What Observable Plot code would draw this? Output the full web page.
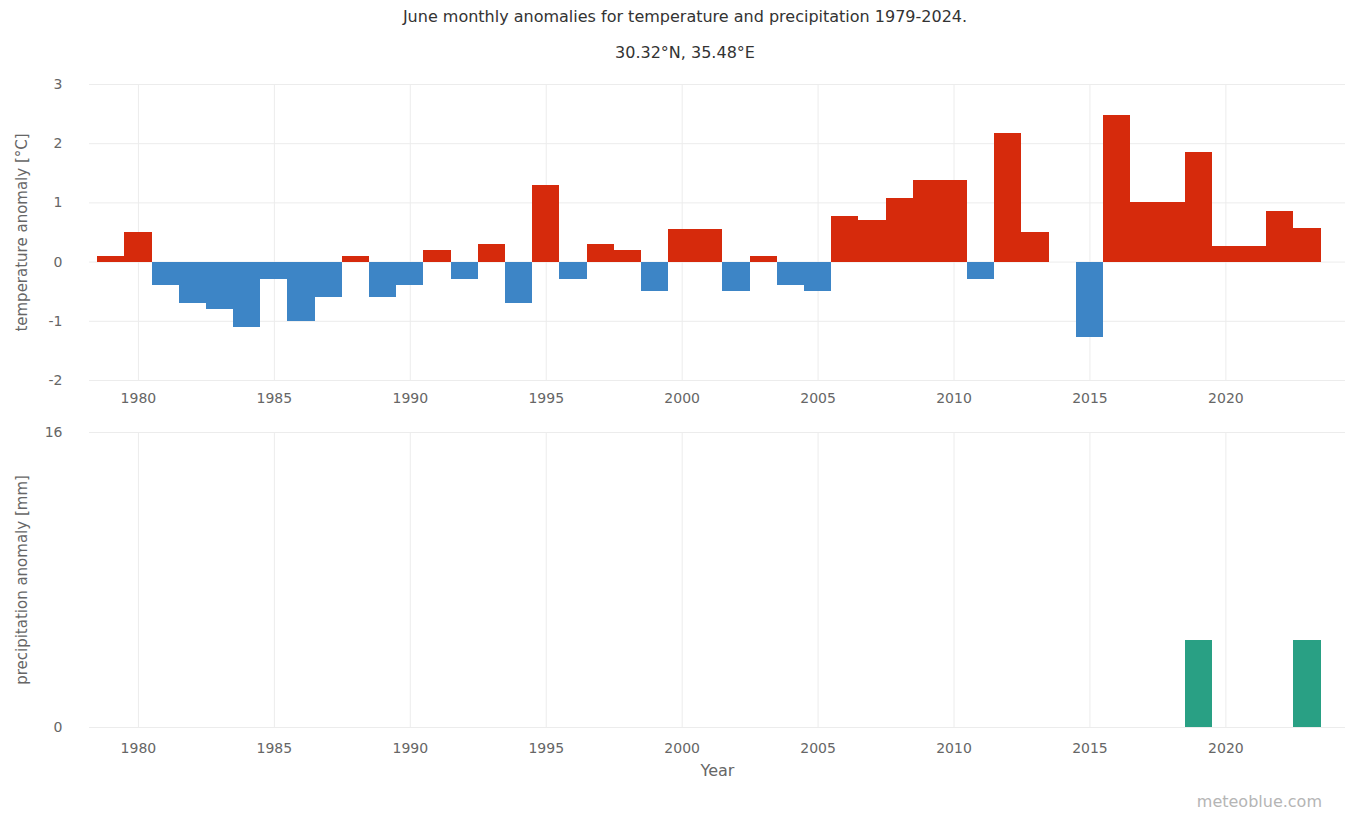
<!DOCTYPE html>
<html>
<head>
<meta charset="utf-8">
<script src="https://cdn.jsdelivr.net/npm/d3@7"></script>
<script src="https://cdn.jsdelivr.net/npm/@observablehq/plot@0.6"></script>
<style>
  html, body { margin: 0; padding: 0; background: #fff; }
  body { width: 1370px; height: 815px; position: relative; overflow: hidden;
         font-family: "DejaVu Sans", sans-serif; }
  .title { position: absolute; left: 0; width: 1370px; text-align: center; color: #333;
           font-size: 16px; line-height: 20px; }
  #t1 { top: 7px; }
  #t2 { top: 43px; }
  #tempChart { position: absolute; left: 0; top: 64px; }
  #precipChart { position: absolute; left: 0; top: 412px; }
  .credit { position: absolute; right: 48px; top: 792px; font-size: 16px; line-height: 20px; color: #b5b5b5; }
</style>
</head>
<body>
<div class="title" id="t1">June monthly anomalies for temperature and precipitation 1979-2024.</div>
<div class="title" id="t2">30.32°N, 35.48°E</div>
<div id="tempChart"></div>
<div id="precipChart"></div>
<div class="credit">meteoblue.com</div>
<script>
// June anomalies per year, 1979–2023 (2014 has no temperature value)
const years = [1979, 1980, 1981, 1982, 1983, 1984, 1985, 1986, 1987, 1988,
  1989, 1990, 1991, 1992, 1993, 1994, 1995, 1996, 1997, 1998,
  1999, 2000, 2001, 2002, 2003, 2004, 2005, 2006, 2007, 2008,
  2009, 2010, 2011, 2012, 2013, 2014, 2015, 2016, 2017, 2018,
  2019, 2020, 2021, 2022, 2023];
const tempAnomaly = [0.1, 0.5, -0.4, -0.7, -0.8, -1.1, -0.3, -1.0, -0.6, 0.1,
  -0.6, -0.4, 0.2, -0.3, 0.3, -0.7, 1.3, -0.3, 0.3, 0.2,
  -0.5, 0.55, 0.55, -0.5, 0.1, -0.4, -0.5, 0.77, 0.7, 1.07,
  1.37, 1.37, -0.3, 2.17, 0.5, null, -1.28, 2.47, 1.0, 1.0,
  1.85, 0.26, 0.26, 0.86, 0.57];
const precipAnomaly = [0, 0, 0, 0, 0, 0, 0, 0, 0, 0,
  0, 0, 0, 0, 0, 0, 0, 0, 0, 0,
  0, 0, 0, 0, 0, 0, 0, 0, 0, 0,
  0, 0, 0, 0, 0, 0, 0, 0, 0, 0,
  4.7, 0, 0, 0, 4.7];
const xTicks = [1980, 1985, 1990, 1995, 2000, 2005, 2010, 2015, 2020];
const tempTicks = [-2, -1, 0, 1, 2, 3];
const precipTicks = [0, 16];

const tempRows = years.map((year, i) => ({year, value: tempAnomaly[i]})).filter(d => d.value != null);
const precipRows = years.map((year, i) => ({year, value: precipAnomaly[i]})).filter(d => d.value > 0);

const WARM = "#d62a0c", COLD = "#3d85c6", WET = "#29a084";
const GRID = "#ececec", TEXT = "#666";
const plain = d => String(d);
const xDomain = [1978.2, 2024.4];
const common = {
  width: 1370,
  marginLeft: 89,
  marginRight: 25,
  style: {fontFamily: '"DejaVu Sans", sans-serif', fontSize: "14px", color: TEXT, background: "#fff"}
};

const tempPlot = Plot.plot({
  ...common,
  height: 348,
  marginTop: 20,
  marginBottom: 32,
  x: {domain: xDomain, ticks: xTicks, tickFormat: plain, label: null},
  y: {domain: [-2, 3], ticks: tempTicks, tickFormat: plain, label: null},
  marks: [
    Plot.gridX(xTicks, {stroke: GRID, strokeOpacity: 1}),
    Plot.gridY(tempTicks, {stroke: GRID, strokeOpacity: 1}),
    Plot.rectY(tempRows, {
      x1: d => d.year - 0.5, x2: d => d.year + 0.5, y: "value",
      fill: d => d.value >= 0 ? WARM : COLD, shapeRendering: "crispEdges"
    }),
    Plot.axisX(xTicks, {tickSize: 0, tickPadding: 13, tickFormat: plain, label: null}),
    Plot.axisY(tempTicks, {tickSize: 0, tickPadding: 27, tickFormat: plain, label: null}),
    Plot.text(["temperature anomaly [°C]"], {
      frameAnchor: "left", dx: -67, rotate: -90, textAnchor: "middle", fill: TEXT, fontSize: 15
    })
  ]
});
document.getElementById("tempChart").append(tempPlot);

const precipPlot = Plot.plot({
  ...common,
  height: 378,
  marginTop: 20,
  marginBottom: 63,
  x: {domain: xDomain, ticks: xTicks, tickFormat: plain, label: null},
  y: {domain: [0, 16], ticks: precipTicks, tickFormat: plain, label: null},
  marks: [
    Plot.gridX(xTicks, {stroke: GRID, strokeOpacity: 1}),
    Plot.gridY(precipTicks, {stroke: GRID, strokeOpacity: 1}),
    Plot.rectY(precipRows, {
      x1: d => d.year - 0.5, x2: d => d.year + 0.5, y: "value", fill: WET,
      shapeRendering: "crispEdges"
    }),
    Plot.axisX(xTicks, {tickSize: 0, tickPadding: 16, tickFormat: plain, label: null}),
    Plot.axisY(precipTicks, {tickSize: 0, tickPadding: 27, tickFormat: plain, label: null}),
    Plot.text(["precipitation anomaly [mm]"], {
      frameAnchor: "left", dx: -67, rotate: -90, textAnchor: "middle", fill: TEXT, fontSize: 15
    }),
    Plot.text(["Year"], {
      frameAnchor: "bottom", dy: 48, fill: TEXT, fontSize: 16
    })
  ]
});
document.getElementById("precipChart").append(precipPlot);
</script>
</body>
</html>
